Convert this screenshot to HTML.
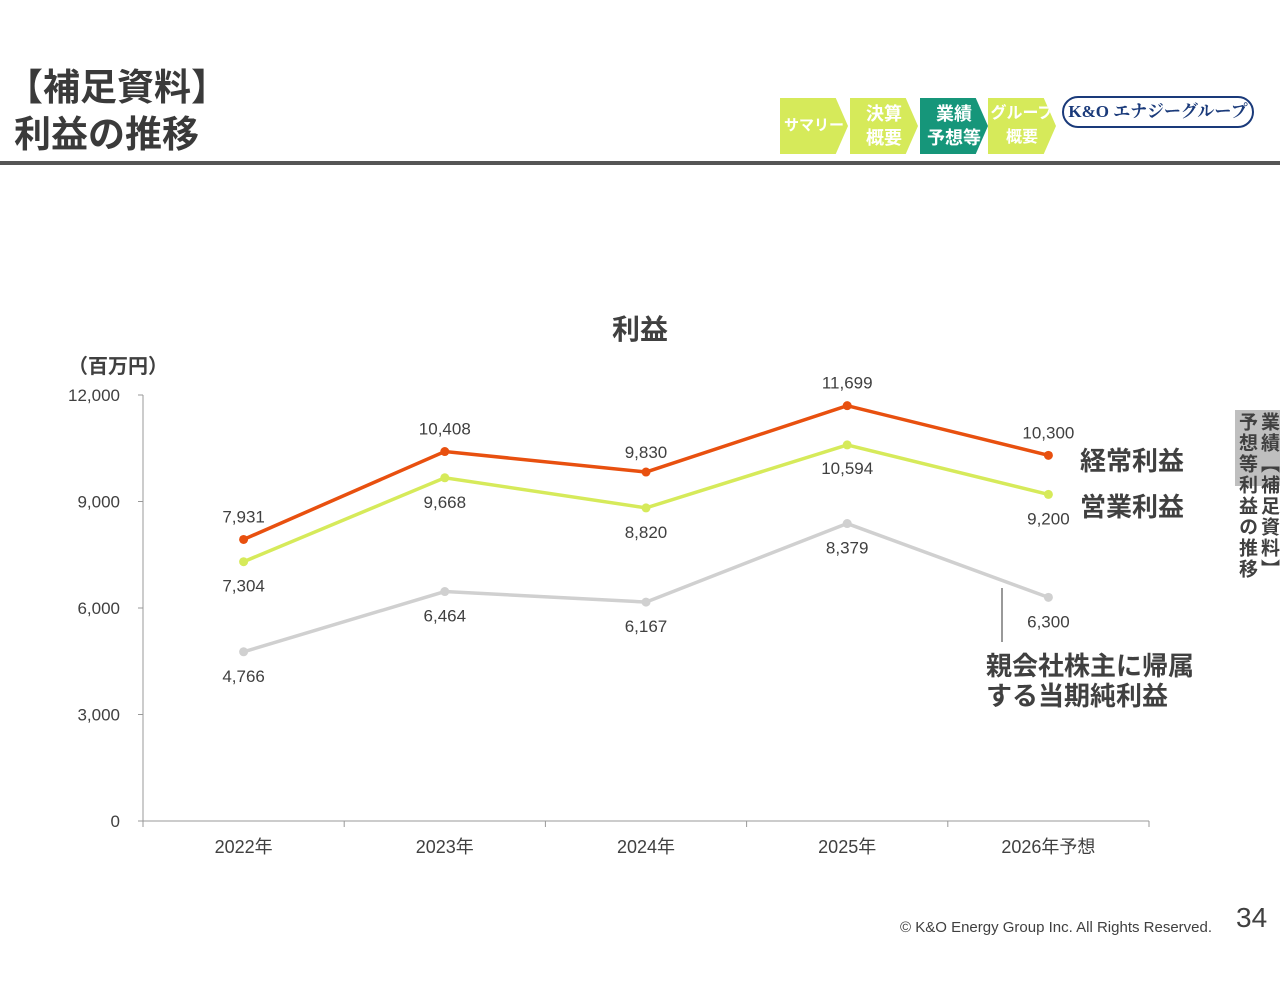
<!DOCTYPE html>
<html><head><meta charset="utf-8"><style>
body{margin:0;width:1280px;height:989px;background:#fff;font-family:"Liberation Sans","Noto Sans CJK JP",sans-serif;position:relative;overflow:hidden;color:#404040}
.abs{position:absolute}
.nav{position:absolute;top:98px;height:56px;color:#fff;font-weight:bold;font-size:18px;line-height:24px;display:flex;align-items:center;justify-content:center;clip-path:polygon(0 0,82% 0,100% 50%,82% 100%,0 100%)}
.side{writing-mode:vertical-rl;font-size:19px;font-weight:bold;color:#404040;position:absolute;line-height:22px;letter-spacing:2px}
</style></head><body>
<div class="abs" style="left:6px;top:64px;font-size:37px;font-weight:bold;line-height:47px;color:#3a3a3a">【補足資料】<br><span style="padding-left:8px">利益の推移</span></div>
<div class="nav" style="left:780px;width:68px;background:#d6ea5a;font-size:15px">サマリー</div>
<div class="nav" style="left:850px;width:68px;background:#d6ea5a;text-align:center">決算<br>概要</div>
<div class="nav" style="left:920px;width:68px;background:#16967a;text-align:center">業績<br>予想等</div>
<div class="nav" style="left:988px;width:68px;background:#d6ea5a;text-align:center;font-size:16px">グループ<br>概要</div>
<div class="abs" style="left:1062px;top:96px;width:188px;height:28px;border:2px solid #1a3a7a;border-radius:16px;color:#1a3a7a;font-weight:bold;font-size:17px;text-align:center;line-height:28px;font-family:'Liberation Serif','Noto Serif CJK SC',serif">K&amp;O エナジーグループ</div>
<div class="abs" style="left:0;top:161px;width:1280px;height:4px;background:#555"></div>
<div class="abs" style="left:1235px;top:410px;width:45px;height:76px;background:#bfbfbf"></div>
<div class="side" style="left:1257px;top:412px">業績【補足資料】</div>
<div class="side" style="left:1235px;top:412px">予想等利益の推移</div>
<div class="abs" style="left:900px;top:919px;font-size:15px;color:#404040">© K&amp;O Energy Group Inc. All Rights Reserved.</div>
<div class="abs" style="left:1236px;top:902px;font-size:28px;color:#404040">34</div>
<svg id="chart" class="abs" style="left:0;top:0" width="1280" height="989"></svg>
<script>
const categories=["2022年","2023年","2024年","2025年","2026年予想"];
const ordinary=[7931,10408,9830,11699,10300];
const operating=[7304,9668,8820,10594,9200];
const net=[4766,6464,6167,8379,6300];
const yTicks=[0,3000,6000,9000,12000];
const svg=document.getElementById('chart');
const NS='http://www.w3.org/2000/svg';
const x0=143,x1=1149,yb=821,yt=395,yMax=12000;
const bw=(x1-x0)/categories.length;
const X=i=>x0+bw*(i+0.5);
const Y=v=>yb-(v/yMax)*(yb-yt);
function mk(t,a,p){const e=document.createElementNS(NS,t);for(const k in a)e.setAttribute(k,a[k]);(p||svg).appendChild(e);return e;}
const fmt=v=>v.toLocaleString('en-US');
let e=mk('text',{x:640,y:339,'text-anchor':'middle','font-size':28,'font-weight':'bold',fill:'#404040'});e.textContent='利益';


e=mk('text',{x:68,y:373,'font-size':20,'font-weight':'bold',fill:'#404040'});e.textContent='（百万円）';


e=mk('line',{x1:x0,y1:yt,x2:x0,y2:yb,stroke:'#999'});


e=mk('line',{x1:x0,y1:yb,x2:x1,y2:yb,stroke:'#999'});


yTicks.forEach(v=>{mk('line',{x1:x0-5,y1:Y(v),x2:x0,y2:Y(v),stroke:'#999'});
const t=mk('text',{x:120,y:Y(v)+6,'text-anchor':'end','font-size':17,fill:'#404040'});t.textContent=fmt(v);

});
for(let i=0;i<=categories.length;i++)mk('line',{x1:x0+bw*i,y1:yb,x2:x0+bw*i,y2:yb+6,stroke:'#999'});
categories.forEach((c,i)=>{const t=mk('text',{x:X(i),y:853,'text-anchor':'middle','font-size':18,fill:'#404040'});t.textContent=c;

});
function series(data,color,name,offs){
const l=mk('polyline',{points:data.map((v,i)=>X(i)+','+Y(v)).join(' '),fill:'none',stroke:color,'stroke-width':3.5});


data.forEach((v,i)=>{const c=mk('circle',{cx:X(i),cy:Y(v),r:4.5,fill:color});


const t=mk('text',{x:X(i),y:Y(v)+offs[i],'text-anchor':'middle','font-size':17,fill:'#404040'});t.textContent=fmt(v);

});}
series(net,'#d0d0d0','net-income',[30,30,30,30,30]);
series(operating,'#d6ea5a','operating-income',[30,30,30,29,30]);
series(ordinary,'#e8500f','ordinary-income',[-17,-17,-14,-17,-17]);
[['経常利益',1080,470,'legend-ordinary'],['営業利益',1080,516,'legend-operating'],['親会社株主に帰属',986,675,'legend-net-1'],['する当期純利益',986,705,'legend-net-2']].forEach(a=>{
const t=mk('text',{x:a[1],y:a[2],'font-size':26,'font-weight':'bold',fill:'#404040'});t.textContent=a[0];

});
e=mk('line',{x1:1002,y1:588,x2:1002,y2:642,stroke:'#555','stroke-width':1.2});


</script>
</body></html>
